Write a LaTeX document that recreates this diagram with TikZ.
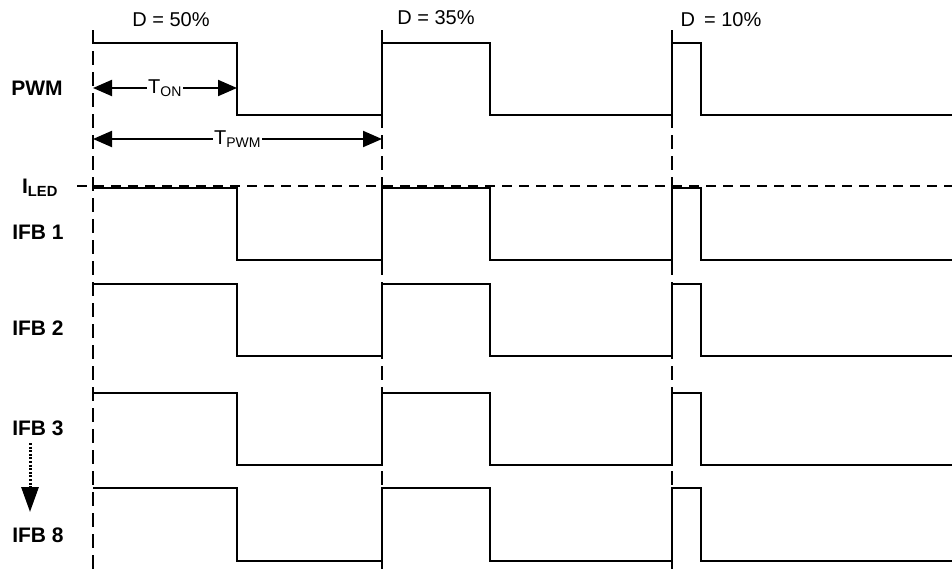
\documentclass[tikz,border=0pt]{standalone}
\usepackage{fontspec}
\setmainfont{Liberation Sans}
\usetikzlibrary{arrows.meta,positioning}
\tikzstyle{wave} = [draw, line width=1.8pt, line join=miter]
\tikzstyle{edge} = [draw, line width=2.6pt, dash pattern=on 14pt off 7pt]
\tikzstyle{level} = [draw, line width=1.2pt, dash pattern=on 10pt off 7pt]
\tikzstyle{dim} = [draw, line width=2pt, {Triangle[length=19pt,width=16pt]}-{Triangle[length=19pt,width=16pt]}]
\tikzstyle{signal} = [font=\fontsize{21}{24}\selectfont\bfseries]
\tikzstyle{duty} = [font=\fontsize{20}{24}\selectfont]
\tikzstyle{span} = [fill=white, inner sep=1pt, font=\fontsize{20}{24}\selectfont]
\tikzstyle{down} = [draw, line width=3pt, dash pattern=on 2pt off 1.6pt, -{Triangle[length=25pt,width=17pt]}]

\begin{document}
\begin{tikzpicture}[x=1pt, y=-1pt]
    \useasboundingbox (0,0) rectangle (952,573);

    % signal names
    \node [signal] (pwm) at (37,88) {PWM};
    \node [signal] (iled) at (40,188) {I\textsubscript{LED}};
    \node [signal] (ifb1) at (38,232) {IFB 1};
    \node [signal] (ifb2) at (38,328) {IFB 2};
    \node [signal] (ifb3) at (38,428) {IFB 3};
    \node [signal] (ifb8) at (38,535) {IFB 8};

    % duty cycles
    \node [duty] (d50) at (171,20) {D = 50\%};
    \node [duty] (d35) at (436,18) {D = 35\%};
    \node [duty] (d10) at (721,20) {D \,= 10\%};

    % waveforms
    \foreach \hi/\lo in {43/115, 188/260, 284/356, 393/465, 488/561}
        \draw [wave] (93,\hi) -- (237,\hi) -- (237,\lo) -- (382,\lo) -- (382,\hi) -- (490,\hi) -- (490,\lo)
            -- (672,\lo) -- (672,\hi) -- (701,\hi) -- (701,\lo) -- (952,\lo);

    % period edges and current level
    \foreach \x in {93,382,672}
        \draw [edge] (\x,30) -- (\x,573);
    \draw [level] (77,186) -- (952,186);

    % timing arrows
    \coordinate (on0) at (93,88);
    \coordinate (on1) at (237,88);
    \coordinate (per0) at (93,139);
    \coordinate (per1) at (382,139);
    \path [dim] (on0) -- node [span] (ton) {T\textsubscript{ON}} (on1);
    \path [dim] (per0) -- node [span] (tpwm) {T\textsubscript{PWM}} (per1);

    \coordinate (more0) at (30,443);
    \coordinate (more1) at (30,512);
    \path [down] (more0) -- (more1);
\end{tikzpicture}
\end{document}
